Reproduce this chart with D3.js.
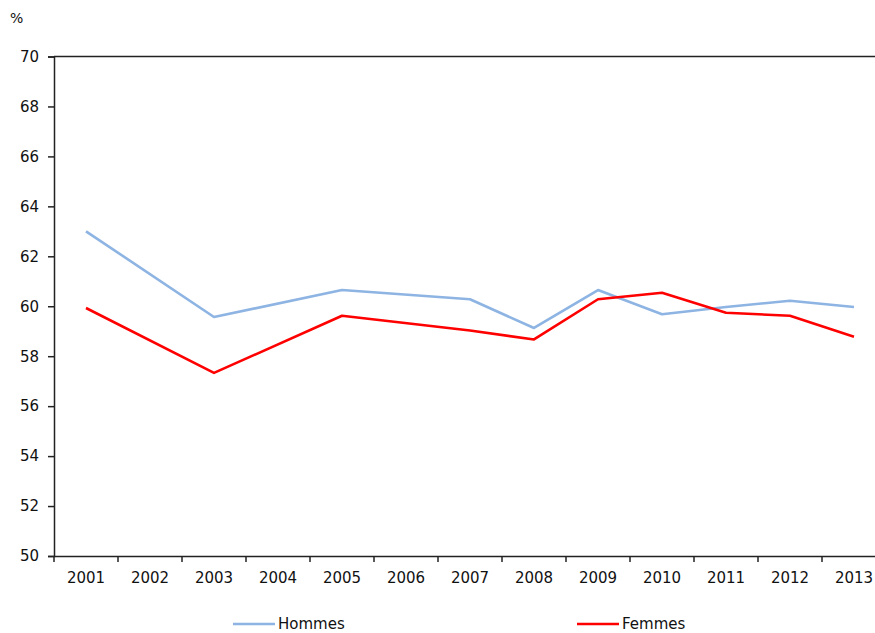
<!DOCTYPE html>
<html>
<head>
<meta charset="utf-8">
<script src="https://cdn.jsdelivr.net/npm/d3@7"></script>
<style>
  body { margin: 0; background: #fff; }
  text { font-family: "DejaVu Sans", Verdana, sans-serif; font-size: 15px; fill: #111; }
</style>
</head>
<body>
<svg id="chart" width="875" height="633"></svg>
<script>
// data (null = no value that year)
var years = ["2001", "2002", "2003", "2004", "2005", "2006", "2007", "2008", "2009", "2010", "2011", "2012", "2013"];
var hommes = [63.0, null, 59.57, null, 60.65, null, 60.28, 59.13, 60.65, 59.68, 59.97, 60.22, 59.97];
var femmes = [59.93, null, 57.33, null, 59.62, null, 59.03, 58.67, 60.28, 60.54, 59.74, 59.62, 58.78];
var yTicks = [50, 52, 54, 56, 58, 60, 62, 64, 66, 68, 70];

var svg = d3.select("#chart");

var plotLeft = 54, plotTop = 56.5, plotBottom = 556;
var x = d3.scaleBand().domain(years).range([plotLeft, plotLeft + 13 * 64]);
var y = d3.scaleLinear().domain([50, 70]).range([plotBottom, plotTop]);

// top border of plot
svg.append("line")
    .attr("x1", plotLeft).attr("x2", 875)
    .attr("y1", plotTop).attr("y2", plotTop)
    .attr("stroke", "#222").attr("stroke-width", 1.5);

var yAxis = svg.append("g")
    .attr("transform", "translate(" + plotLeft + ",0)")
    .call(d3.axisLeft(y).tickValues(yTicks).tickSize(6).tickPadding(9));

var xAxis = svg.append("g")
    .attr("transform", "translate(0," + plotBottom + ")")
    .call(d3.axisBottom(x).tickSize(0).tickPadding(16));

// ticks between categories
xAxis.selectAll(".between")
    .data(years)
    .enter().append("line")
    .attr("x1", function (d) { return x(d); })
    .attr("x2", function (d) { return x(d); })
    .attr("y1", 0).attr("y2", 6)
    .attr("stroke", "#222").attr("stroke-width", 1.5);

svg.selectAll(".domain").attr("stroke", "#222").attr("stroke-width", 1.5);
yAxis.selectAll(".tick line").attr("stroke", "#222").attr("stroke-width", 1.5);
svg.selectAll(".tick text")
    .style("font-size", "15px")
    .style("font-family", "'DejaVu Sans', Verdana, sans-serif")
    .style("fill", "#111");

svg.append("text").attr("x", 10).attr("y", 23).style("font-size", "14px").text("%");

function drawLine(values, color) {
    var pts = years.map(function (d, i) { return { year: d, v: values[i] }; })
        .filter(function (p) { return p.v !== null; });
    var line = d3.line()
        .x(function (p) { return x(p.year) + x.bandwidth() / 2; })
        .y(function (p) { return y(p.v); });
    svg.append("path")
        .datum(pts)
        .attr("d", line)
        .attr("fill", "none")
        .attr("stroke", color)
        .attr("stroke-width", 2.6)
        .attr("stroke-linejoin", "round");
}

drawLine(hommes, "#8DB4E2");
drawLine(femmes, "#FF0000");

// legend
var legend = [
    { name: "Hommes", color: "#8DB4E2", x: 233 },
    { name: "Femmes", color: "#FF0000", x: 577 }
];
legend.forEach(function (l) {
    svg.append("line")
        .attr("x1", l.x).attr("x2", l.x + 42)
        .attr("y1", 624).attr("y2", 624)
        .attr("stroke", l.color).attr("stroke-width", 2.6);
    svg.append("text")
        .attr("x", l.x + 45).attr("y", 629)
        .style("font-size", "15px")
        .text(l.name);
});
</script>
</body>
</html>
